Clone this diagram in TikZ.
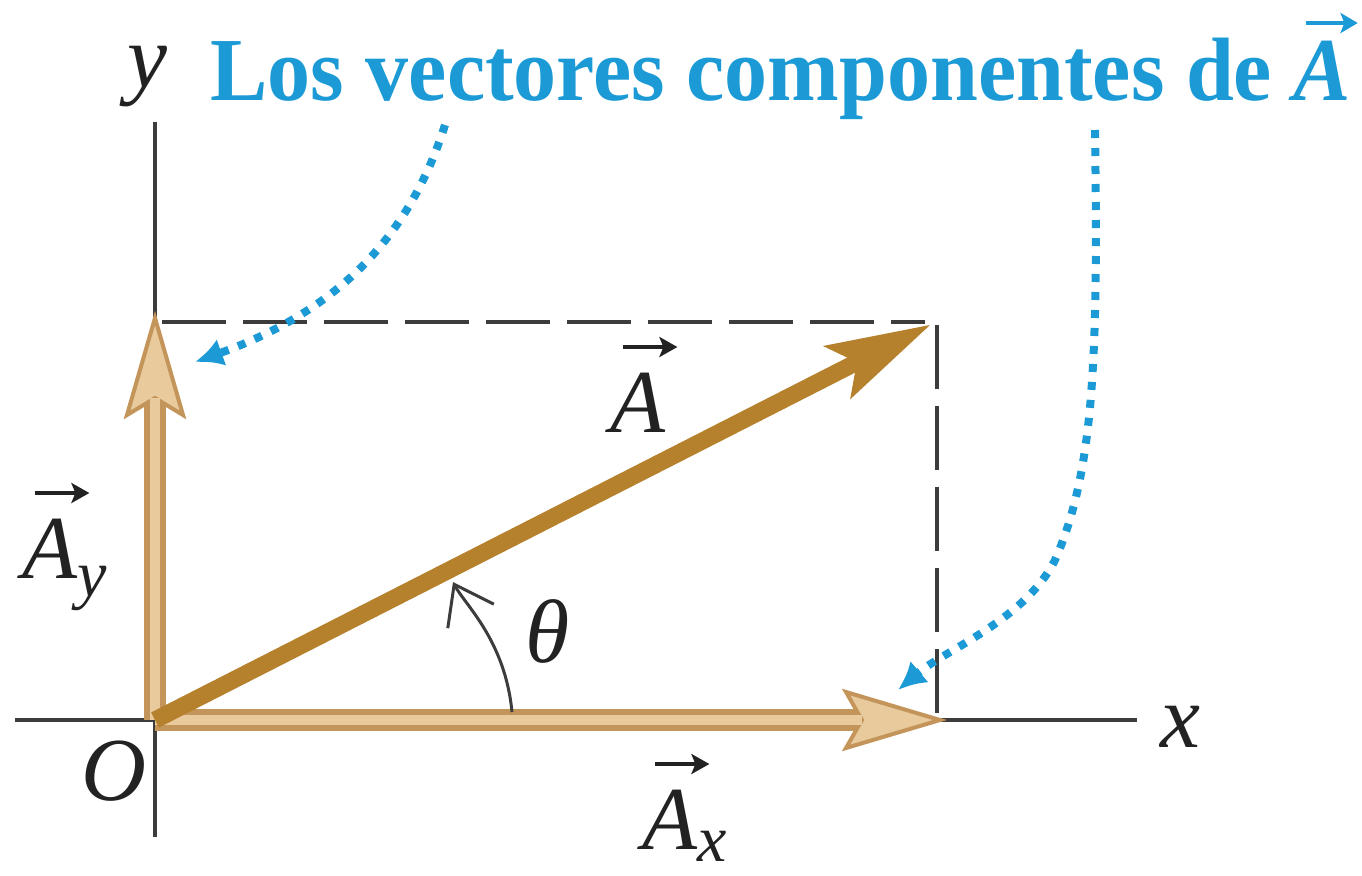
\documentclass[tikz,border=0pt]{standalone}
\usepackage{fontspec}
\setmainfont{Liberation Serif}
\usetikzlibrary{arrows.meta,calc}
\definecolor{abrown}{HTML}{B5812D}
\definecolor{tanout}{HTML}{C4955A}
\definecolor{tanin}{HTML}{E8CA9C}
\definecolor{cblue}{HTML}{1B9AD6}
\definecolor{axgray}{HTML}{3C3C3C}
\definecolor{txt}{HTML}{222222}
% #1 colour, #2 height of the arrow above the baseline
\newcommand{\vecarrow}[2]{\rlap{\hspace{5.5pt}\tikz[x=1pt,y=1pt,baseline={(0,-#2)}]\draw[#1, line width=2pt, -{Stealth[length=9pt,width=10pt,inset=2pt]}] (0,0)--(27,0);}}
\newcommand{\vecA}{\leavevmode\vecarrow{txt}{42.5pt}\textit{A}}
\newcommand{\vecAb}{\leavevmode\vecarrow{cblue}{38.5pt}\textbf{\textit{A}}}
\begin{document}
\begin{tikzpicture}[x=0.5pt,y=-0.5pt,
  lbl/.style={inner sep=0pt, text=txt, font=\fontsize{45}{54}\selectfont},
  axisline/.style={axgray, line width=2.2pt},
  dashline/.style={axgray, line width=2pt, dash pattern=on 32pt off 8.5pt},
  dotline/.style={cblue, line width=4pt, dash pattern=on 4pt off 5pt, -{Latex[length=14pt,width=14pt]}},
  angarrow/.style={axgray, line width=1.5pt, -{Straight Barb[length=18pt,width=26pt]}},
  outershaft/.style={tanout, line width=11pt},
  innershaft/.style={tanin, line width=5pt},
  head/.style={fill=tanin, draw=tanout, line width=2pt, line join=miter}
]
\useasboundingbox (0,0) rectangle (1362,875);
% key points
\coordinate (O) at (155,720);
\coordinate (xl) at (15,720);
\coordinate (xr) at (1137,720);
\coordinate (yt) at (155,122);
\coordinate (yb) at (155,837);
\coordinate (dtl) at (162,322);
\coordinate (dtr) at (925,322);
\coordinate (drt) at (937,325);
\coordinate (drb) at (937,718);
% axes
\draw[axisline] (xl) -- (xr);
\draw[axisline] (yt) -- (yb);
% dashed rectangle
\draw[dashline] (dtl) -- (dtr);
\draw[dashline] (drt) -- (drb);
% A_x component
\coordinate (Axtip) at (940,720);
\coordinate (Axn) at (862,720);
\draw[outershaft] (O) -- (Axn);
\filldraw[head] (Axtip) -- (846,692) -- (Axn) -- (846,748) -- cycle;
\draw[innershaft] (O) -- (Axn);
% A_y component
\coordinate (Aytip) at (155,318);
\coordinate (Ayn) at (155,398);
\draw[outershaft] (O) -- (Ayn);
\filldraw[head] (Aytip) -- (127,415) -- (Ayn) -- (183,415) -- cycle;
\draw[innershaft] (O) -- (Ayn);
% vector A
\coordinate (Atip) at (930,325);
\coordinate (An) at (856.9,362.2);
\draw[abrown, line width=8.5pt] (O) -- (An);
\fill[abrown] (Atip) -- (822.9,346.0) -- (An) -- (850.1,399.4) -- cycle;
% angle theta
\coordinate (thb) at (512,712);
\coordinate (tht) at (453,582);
\draw[angarrow] (thb) .. controls (505,640) and (465,605) .. (tht);
% dotted pointers
\coordinate (d1s) at (445,125);
\coordinate (d1e) at (195,362);
\draw[dotline] (d1s) .. controls (410,235) and (340,310) .. (d1e);
\coordinate (d2s) at (1095,130);
\coordinate (d2m) at (1055,560);
\coordinate (d2e) at (898,690);
\draw[dotline] (d2s) .. controls (1098,350) and (1095,470) .. (d2m) .. controls (1025,620) and (945,650) .. (d2e);
% labels
\node[lbl, anchor=base, font=\fontsize{45}{54}\selectfont\itshape] (ylab) at (147,87) {y};
\node[lbl, anchor=base, font=\fontsize{45}{54}\selectfont\itshape] (xlab) at (1180,747) {x};
\node[lbl, anchor=base, font=\fontsize{45}{54}\selectfont\itshape] (Olab) at (114,800) {O};
\node[lbl, anchor=base, font=\fontsize{45}{54}\selectfont\itshape] (thlab) at (548,662) {θ};
\node[lbl, anchor=base west] (Alab) at (610,432) {\vecA};
\node[lbl, anchor=base west] (Aylab) at (22,578) {\vecA\raisebox{-9pt}{\fontsize{33}{36}\selectfont\itshape y}};
\node[lbl, anchor=base west] (Axlab) at (642,849) {\vecA\raisebox{-6pt}{\fontsize{33}{36}\selectfont\itshape x}};
\node[lbl, anchor=base west, text=cblue, font=\fontsize{45}{54}\selectfont\bfseries] (title) at (210,100) {\scalebox{0.956}[1]{Los vectores componentes de \vecAb}};
\end{tikzpicture}
\end{document}
